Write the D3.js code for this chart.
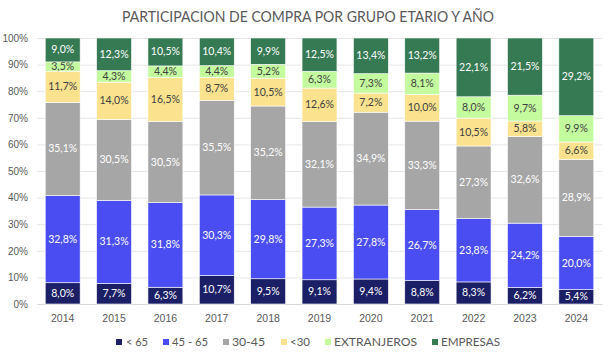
<!DOCTYPE html>
<html><head><meta charset="utf-8">
<script src="https://cdn.jsdelivr.net/npm/d3@7"></script>
<style>body{margin:0;background:#fff;}svg{font-family:"Lato","Noto Sans",sans-serif;}</style>
</head><body><svg id="c" width="614" height="359"></svg>
<script>
const years = ["2014","2015","2016","2017","2018","2019","2020","2021","2022","2023","2024"];
const seriesNames = ["< 65","45 - 65","30-45","<30","EXTRANJEROS","EMPRESAS"];
const mayor65 = [8.0,7.7,6.3,10.7,9.5,9.1,9.4,8.8,8.3,6.2,5.4];
const s45_65 = [32.8,31.3,31.8,30.3,29.8,27.3,27.8,26.7,23.8,24.2,20.0];
const s30_45 = [35.1,30.5,30.5,35.5,35.2,32.1,34.9,33.3,27.3,32.6,28.9];
const menor30 = [11.7,14.0,16.5,8.7,10.5,12.6,7.2,10.0,10.5,5.8,6.6];
const extranjeros = [3.5,4.3,4.4,4.4,5.2,6.3,7.3,8.1,8.0,9.7,9.9];
const empresas = [9.0,12.3,10.5,10.4,9.9,12.5,13.4,13.2,22.1,21.5,29.2];
const yTicks = [0,10,20,30,40,50,60,70,80,90,100];
const colors = ["#1b1f66","#4a4ef2","#a6a6a6","#fae28e","#c4fb9f","#367a53"];
const labelColors = ["#fff","#fff","#fff","#404040","#404040","#fff"];

const seriesVals = [mayor65,s45_65,s30_45,menor30,extranjeros,empresas];
const rows = years.map((y,i)=>{const r={year:y};seriesNames.forEach((s,j)=>r[s]=seriesVals[j][i]);return r;});
const stack = d3.stack().keys(seriesNames).offset(d3.stackOffsetExpand)(rows);

const svg = d3.select("#c");
const m = {l:37,r:12,t:38,b:55};
const W=614,H=359;
const x = d3.scaleBand().domain(years).range([m.l,W-m.r]).paddingInner(0.32).paddingOuter(0.16);
const y = d3.scaleLinear().domain([0,1]).range([H-m.b,m.t]);

svg.append("text").attr("x",308).attr("y",22).attr("text-anchor","middle")
  .attr("fill","#595959").attr("font-size",14.5).attr("textLength",372).attr("lengthAdjust","spacingAndGlyphs")
  .text("PARTICIPACION DE COMPRA POR GRUPO ETARIO Y AÑO");

const ga = svg.append("g").attr("transform",`translate(${m.l},0)`)
  .call(d3.axisLeft(y).tickValues(yTicks.map(t=>t/100)).tickFormat(d=>Math.round(d*100)+"%").tickSize(-(W-m.l-m.r)).tickPadding(9));
ga.select(".domain").remove();
ga.selectAll(".tick line").attr("stroke","#e6e6e6");
ga.selectAll(".tick text").attr("fill","#595959").attr("font-size",10);

const gx = svg.append("g").attr("transform",`translate(0,${H-m.b})`)
  .call(d3.axisBottom(x).tickSize(0).tickPadding(11));
gx.select(".domain").attr("stroke","#d9d9d9");
gx.selectAll(".tick text").attr("fill","#595959").attr("font-size",10.5);

stack.forEach((s,j)=>{
  const g = svg.append("g");
  g.selectAll("rect").data(s).join("rect")
    .attr("x",d=>x(d.data.year)).attr("width",x.bandwidth())
    .attr("y",d=>y(d[1])).attr("height",d=>y(d[0])-y(d[1]))
    .attr("fill",colors[j]).attr("stroke","#fff").attr("stroke-width",0.6);
  g.selectAll("text").data(s).join("text")
    .attr("x",d=>x(d.data.year)+x.bandwidth()/2)
    .attr("y",d=>(y(d[0])+y(d[1]))/2+3.5)
    .attr("text-anchor","middle").attr("font-size",10.5).attr("fill",labelColors[j])
    .text(d=>d.data[seriesNames[j]].toFixed(1).replace(".",",")+"%");
});

// legend
const legendSq=[116,163,223,281,325,432];
const legendTx=[126,172,232,290,334,441];
const legendW=[22,36,33,20,83,59];
const lg = svg.append("g").attr("transform",`translate(0,342)`);
seriesNames.forEach((s,j)=>{
  lg.append("rect").attr("x",legendSq[j]).attr("y",-3).attr("width",6).attr("height",6).attr("fill",colors[j]);
  lg.append("text").attr("x",legendTx[j]).attr("y",4).attr("font-size",11.5).attr("fill","#595959")
    .attr("textLength",legendW[j]).attr("lengthAdjust","spacingAndGlyphs").text(s);
});
</script></body></html>
